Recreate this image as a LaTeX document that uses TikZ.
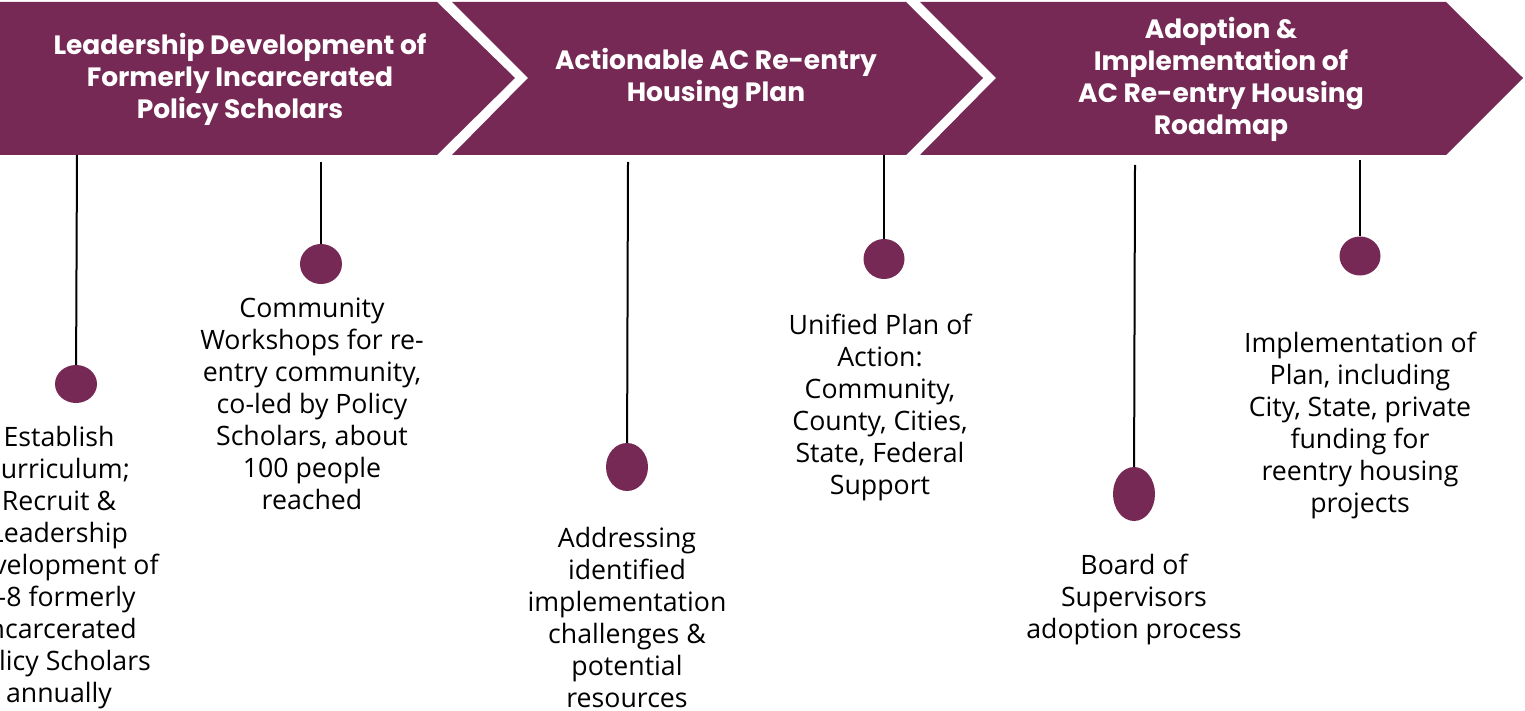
\documentclass[tikz,border=0pt]{standalone}
\usepackage{fontspec}
\setmainfont{Open Sans}
\newfontfamily\headfont{Poppins}
\usetikzlibrary{shapes.geometric}
\definecolor{plum}{RGB}{117,41,84}
\begin{document}
\begin{tikzpicture}[x=1pt,y=-1pt]
    \tikzstyle{band}=[fill=plum]
    \tikzstyle{heading}=[text=white,align=center,inner sep=0pt,font=\headfont\bfseries\fontsize{26.5}{32}\selectfont]
    \tikzstyle{milestone}=[fill=plum,ellipse,inner sep=0pt]
    \tikzstyle{stem}=[line width=2pt,black]
    \tikzstyle{caption}=[align=center,inner sep=0pt,font=\fontsize{26.7}{32}\selectfont]

    \useasboundingbox (0,0) rectangle (1525,711);

    % the three phases
    \fill[band] (0,2) -- (437,2) -- (515,78) -- (437,155) -- (0,155) -- cycle;
    \fill[band] (452,2) -- (906,2) -- (983,78) -- (906,155) -- (452,155) -- (528,78) -- cycle;
    \fill[band] (920,2) -- (1446,2) -- (1523,78) -- (1446,155) -- (920,155) -- (996,78) -- cycle;

    \node[heading] at (240,79) (h1) {Leadership Development of\\Formerly Incarcerated\\Policy Scholars};
    \node[heading] at (716,79) (h2) {Actionable AC Re-entry\\Housing Plan};
    \node[heading] at (1221,79) (h3) {Adoption \&\\Implementation of\\AC Re-entry Housing\\Roadmap};

    % milestones
    \coordinate (t1) at (77,155);
    \coordinate (t2) at (321,162);
    \coordinate (t3) at (628,162);
    \coordinate (t4) at (884,155);
    \coordinate (t5) at (1135,165);
    \coordinate (t6) at (1360,160);

    \node[milestone, minimum width=42, minimum height=38] at (76,384) (d1) {};
    \node[milestone, minimum width=42, minimum height=40] at (321,264) (d2) {};
    \node[milestone, minimum width=42, minimum height=48] at (627,467) (d3) {};
    \node[milestone, minimum width=41, minimum height=40] at (884,259) (d4) {};
    \node[milestone, minimum width=42, minimum height=54] at (1134,494) (d5) {};
    \node[milestone, minimum width=41, minimum height=39] at (1360,256) (d6) {};

    \draw[stem] (t1) -- (d1);
    \draw[stem] (t2) -- (d2);
    \draw[stem] (t3) -- (d3);
    \draw[stem] (t4) -- (d4);
    \draw[stem] (t5) -- (d5);
    \draw[stem] (t6) -- (d6);

    \node[caption] at (59,568) (c1) {Establish\\curriculum;\\Recruit \&\\Leadership\\Development of\\6-8 formerly\\Incarcerated\\Policy Scholars\\annually};
    \node[caption] at (312,404) (c2) {Community\\Workshops for re-\\entry community,\\co-led by Policy\\Scholars, about\\100 people\\reached};
    \node[caption] at (627,617) (c3) {Addressing\\identified\\implementation\\challenges \&\\potential\\resources};
    \node[caption] at (880,407) (c4) {Unified Plan of\\Action:\\Community,\\County, Cities,\\State, Federal\\Support};
    \node[caption] at (1134,599) (c5) {Board of\\Supervisors\\adoption process};
    \node[caption] at (1360,425) (c6) {Implementation of\\Plan, including\\City, State, private\\funding for\\reentry housing\\projects};
\end{tikzpicture}
\end{document}
